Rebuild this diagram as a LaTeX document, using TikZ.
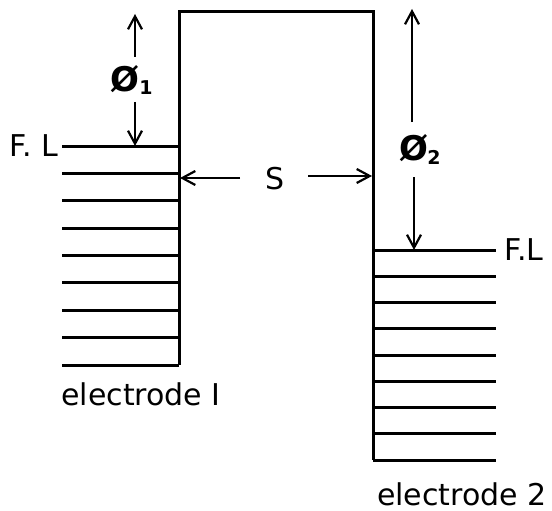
\documentclass[tikz,border=0pt]{standalone}
\usepackage{fontspec}
\setmainfont{DejaVu Sans}
\usetikzlibrary{arrows.meta}
\begin{document}
\begin{tikzpicture}[x=1pt,y=-1pt,line width=3pt,
  lbl/.style={font=\fontsize{30}{32}\selectfont,inner sep=0pt},
  sym/.style={font=\bfseries\fontsize{34}{36}\selectfont,inner sep=0pt},
  sub/.style={font=\bfseries\fontsize{19}{20}\selectfont,inner sep=0pt},
  arr/.style={line width=2.2pt,-{Straight Barb[length=13pt,width=14pt,line width=2.2pt]}}]
\useasboundingbox[fill=white] (0,0) rectangle (552,511);
% outline of the two electrodes and gap
\draw (179,365) -- (179,12) -- (373,12) -- (373,460);
% filled levels, electrode 1
\foreach \k in {0,...,8}
  \draw (62,{146+27.375*\k}) -- (179,{146+27.375*\k});
% filled levels, electrode 2
\foreach \k in {0,...,8}
  \draw (373,{250+26.25*\k}) -- (496,{250+26.25*\k});
% labels
\node[lbl] (fl1) at (34,146) {F. L};
\node[lbl] (fl2) at (524,250) {F.L};
\node[lbl] (el1) at (141,394) {electrode I};
\node[lbl] (el2) at (462,494) {electrode 2};
\node[lbl] (s) at (275,179) {S};
\node[sym] (p1) at (125,79) {Ø};
\node[sub] (p1s) at (146,88) {1};
\node[sym] (p2) at (414,148) {Ø};
\node[sub] (p2s) at (434,157) {2};
% arrow ends
\coordinate (p1top) at (135,14);
\coordinate (p1bot) at (135,146);
\coordinate (p2top) at (412,9);
\coordinate (p2bot) at (414,250);
\coordinate (sl) at (180,178);
\coordinate (sr) at (372,176);
\coordinate (p1a) at (135,57);
\coordinate (p1b) at (135,102);
\coordinate (p2a) at (412,122);
\coordinate (p2b) at (414,177);
\coordinate (sa) at (240,178);
\coordinate (sb) at (308,176);
\draw[arr] (p1a) -- (p1top);
\draw[arr] (p1b) -- (p1bot);
\draw[arr] (p2a) -- (p2top);
\draw[arr] (p2b) -- (p2bot);
\draw[arr] (sa) -- (sl);
\draw[arr] (sb) -- (sr);
\end{tikzpicture}
\end{document}
